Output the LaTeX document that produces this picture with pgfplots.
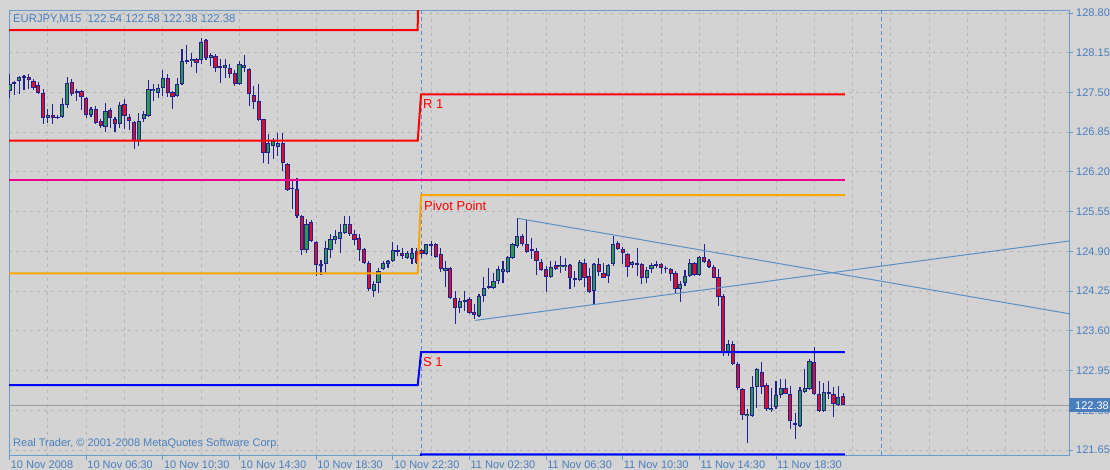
\documentclass[border=0pt]{standalone}
\usepackage{pgfplots}
\usepackage{pgfplotstable}
\pgfplotsset{compat=1.18}
\usepackage{fontspec}
\setmainfont{Liberation Sans}
\definecolor{bg}{HTML}{D4D4D4}
\definecolor{plotbg}{HTML}{D3D3D3}
\definecolor{gridc}{HTML}{B6B6B6}
\definecolor{framec}{HTML}{6B9BCB}
\definecolor{labc}{HTML}{4A7EBB}
\definecolor{wick}{HTML}{22228E}
\definecolor{bull}{HTML}{2A9A4A}
\definecolor{bear}{HTML}{D8102C}
\definecolor{trend}{HTML}{5B8FC5}
\definecolor{pivorange}{HTML}{FFA500}
\pgfplotstableread{
k o h l c
0 127.52 127.80 127.41 127.64
1 127.64 127.69 127.46 127.67
2 127.69 127.77 127.47 127.75
3 127.74 127.79 127.54 127.77
4 127.75 127.80 127.56 127.70
5 127.69 127.72 127.54 127.57
6 127.62 127.67 127.47 127.49
7 127.49 127.56 126.98 127.08
8 127.08 127.23 127.00 127.13
9 127.13 127.31 126.98 127.08
10 127.08 127.13 127.06 127.10
11 127.10 127.41 127.08 127.31
12 127.29 127.75 127.25 127.65
13 127.67 127.72 127.44 127.47
14 127.49 127.56 127.36 127.52
15 127.52 127.54 127.21 127.43
16 127.41 127.43 127.08 127.13
17 127.13 127.26 127.10 127.23
18 127.23 127.28 126.98 127.00
19 127.03 127.07 126.92 126.95
20 126.93 127.33 126.85 127.20
21 127.21 127.25 126.92 127.08
22 127.07 127.10 126.85 126.98
23 126.98 127.34 126.92 127.29
24 127.31 127.39 126.90 127.11
25 127.10 127.15 126.89 127.03
26 127.02 127.03 126.58 126.71
27 126.71 127.16 126.62 127.03
28 127.07 127.20 127.02 127.15
29 127.11 127.70 127.10 127.56
30 127.52 127.64 127.36 127.56
31 127.49 127.64 127.41 127.57
32 127.57 127.87 127.44 127.74
33 127.74 127.80 127.43 127.49
34 127.51 127.52 127.23 127.43
35 127.44 127.74 127.43 127.64
36 127.64 128.21 127.62 128.01
37 128.00 128.28 127.97 128.03
38 128.01 128.15 127.92 128.05
39 128.05 128.06 127.82 127.98
40 128.03 128.39 127.97 128.33
41 128.36 128.37 128.03 128.06
42 128.06 128.15 127.93 128.11
43 128.10 128.13 127.83 127.90
44 127.90 128.05 127.65 127.93
45 127.90 128.05 127.74 127.95
46 127.90 127.97 127.74 127.80
47 127.82 127.87 127.60 127.64
48 127.64 128.01 127.62 127.97
49 127.90 128.11 127.83 127.95
50 127.88 127.90 127.28 127.47
51 127.46 127.60 127.23 127.34
52 127.36 127.64 127.03 127.05
53 127.07 127.07 126.35 126.51
54 126.51 126.82 126.33 126.67
55 126.62 126.75 126.41 126.71
56 126.61 126.84 126.46 126.67
57 126.67 126.84 126.21 126.35
58 126.33 126.35 125.89 125.90
59 125.92 126.08 125.59 125.94
60 125.92 126.10 125.45 125.48
61 125.48 125.50 124.84 124.92
62 124.92 125.43 124.87 125.35
63 125.38 125.41 125.05 125.07
64 125.05 125.07 124.50 124.68
65 124.66 124.76 124.51 124.69
66 124.69 125.07 124.55 124.95
67 124.92 125.18 124.79 125.10
68 125.09 125.25 125.02 125.15
69 125.10 125.35 124.87 125.22
70 125.20 125.48 125.18 125.35
71 125.35 125.48 125.15 125.18
72 125.18 125.25 125.00 125.09
73 125.12 125.18 124.74 124.92
74 124.94 124.95 124.69 124.71
75 124.71 124.74 124.25 124.28
76 124.25 124.41 124.15 124.37
77 124.38 124.63 124.22 124.58
78 124.61 124.74 124.59 124.71
79 124.69 124.76 124.63 124.74
80 124.74 125.05 124.73 124.92
81 124.89 125.00 124.82 124.92
82 124.87 124.95 124.77 124.82
83 124.79 124.91 124.77 124.87
84 124.77 124.95 124.69 124.87
85 124.91 124.95 124.69 124.71
86 124.92 124.94 124.79 124.86
87 124.86 125.02 124.84 125.02
88 124.99 125.07 124.82 125.02
89 125.02 125.04 124.79 124.81
90 124.86 124.95 124.56 124.61
91 124.58 124.74 124.32 124.63
92 124.63 124.64 124.12 124.14
93 124.14 124.25 123.71 123.97
94 123.97 124.14 123.89 124.09
95 124.07 124.25 123.92 124.10
96 124.12 124.15 123.88 123.89
97 123.91 124.04 123.79 123.86
98 123.84 124.20 123.83 124.17
99 124.17 124.48 124.07 124.30
100 124.30 124.63 124.28 124.33
101 124.30 124.55 124.28 124.41
102 124.41 124.66 124.37 124.61
103 124.56 124.74 124.38 124.61
104 124.56 124.82 124.55 124.81
105 124.79 125.04 124.77 125.02
106 124.99 125.45 124.95 125.15
107 125.15 125.18 124.99 125.02
108 125.02 125.41 124.87 124.89
109 124.91 125.12 124.77 124.94
110 124.91 124.95 124.51 124.74
111 124.73 124.77 124.58 124.60
112 124.61 124.66 124.23 124.48
113 124.48 124.74 124.46 124.64
114 124.68 124.74 124.59 124.61
115 124.64 124.82 124.55 124.68
116 124.64 124.79 124.58 124.68
117 124.68 124.69 124.28 124.46
118 124.43 124.58 124.32 124.46
119 124.43 124.76 124.41 124.73
120 124.71 124.77 124.32 124.46
121 124.50 124.63 124.22 124.24
122 124.25 124.71 124.04 124.69
123 124.69 124.79 124.50 124.56
124 124.55 124.71 124.46 124.46
125 124.50 124.69 124.38 124.68
126 124.69 125.15 124.66 125.02
127 125.04 125.07 124.92 124.94
128 124.94 124.97 124.69 124.87
129 124.86 124.87 124.48 124.64
130 124.68 124.74 124.63 124.73
131 124.68 124.95 124.50 124.71
132 124.69 124.71 124.37 124.46
133 124.46 124.64 124.38 124.60
134 124.61 124.71 124.55 124.68
135 124.66 124.74 124.63 124.69
136 124.69 124.71 124.53 124.63
137 124.61 124.66 124.55 124.63
138 124.61 124.63 124.41 124.53
139 124.55 124.58 124.22 124.28
140 124.28 124.41 124.07 124.37
141 124.38 124.60 124.33 124.50
142 124.50 124.77 124.48 124.71
143 124.71 124.73 124.50 124.51
144 124.51 124.82 124.50 124.81
145 124.81 125.02 124.71 124.73
146 124.74 124.77 124.63 124.64
147 124.64 124.68 124.46 124.46
148 124.48 124.61 124.01 124.15
149 124.17 124.20 123.19 123.24
150 123.24 123.45 123.19 123.38
151 123.38 123.43 123.04 123.06
152 123.06 123.09 122.63 122.66
153 122.65 122.66 122.14 122.22
154 122.20 122.32 121.76 122.24
155 122.21 122.86 122.19 122.68
156 122.68 122.99 122.34 122.98
157 122.93 123.09 122.57 122.68
158 122.71 122.75 122.29 122.32
159 122.30 122.66 122.27 122.34
160 122.35 122.78 122.32 122.55
161 122.55 122.81 122.50 122.66
162 122.66 122.81 122.57 122.57
163 122.57 122.70 121.99 122.12
164 122.06 122.26 121.83 122.09
165 122.04 122.68 122.03 122.63
166 122.60 122.98 122.58 122.66
167 122.65 123.14 122.63 123.11
168 123.09 123.34 122.55 122.57
169 122.57 122.78 122.27 122.29
170 122.29 122.75 122.27 122.60
171 122.57 122.78 122.48 122.60
172 122.57 122.68 122.19 122.40
173 122.39 122.70 122.37 122.52
174 122.54 122.58 122.38 122.38
}\candles
\begin{document}
\begin{tikzpicture}
\fill[bg] (-9pt,-14pt) rectangle (1101pt,456pt);
\begin{axis}[
  scale only axis, width=1060pt, height=445pt,
  xmin=-0.125, xmax=221.17, ymin=121.552, ymax=128.833,
  axis background/.style={fill=plotbg},
  axis line style={draw=framec, line width=1pt},
  tick align=outside, major tick length=4pt, minor tick length=0pt,
  tick style={draw=framec, line width=1pt},
  xtick pos=left, ytick pos=right, yticklabel pos=right,
  xtick={0,16,...,160},
  xticklabels={10 Nov 2008,10 Nov 06:30,10 Nov 10:30,10 Nov 14:30,10 Nov 18:30,10 Nov 22:30,11 Nov 02:30,11 Nov 06:30,11 Nov 10:30,11 Nov 14:30,11 Nov 18:30},
  minor xtick={8,24,40,56,72,88,104,120,136,152,168,176,184,192,200,208,216},
  ytick={121.65,122.30,122.95,123.60,124.25,124.90,125.55,126.20,126.85,127.50,128.15,128.80},
  yticklabels={121.65,122.30,122.95,123.60,124.25,124.90,125.55,126.20,126.85,127.50,128.15,128.80},
  xmajorgrids, xminorgrids, ymajorgrids,
  major grid style={gridc, dash pattern=on 3pt off 4pt, line width=1pt},
  minor grid style={gridc, dash pattern=on 3pt off 4pt, line width=1pt},
  xticklabel style={anchor=north west, inner xsep=1pt, inner ysep=1pt, font=\fontsize{11}{13}\selectfont, text=labc},
  yticklabel style={anchor=west, inner xsep=3pt, font=\fontsize{11}{13}\selectfont, text=labc},
  /pgf/number format/assume math mode=true,
]
% bid line
\addplot[forget plot, color=gray!75, line width=1pt] coordinates {(-1,122.38) (222,122.38)};
% period separators
\addplot[forget plot, color=trend, line width=1.2pt, dash pattern=on 4pt off 3pt] coordinates {(86,121) (86,129.5)};
\addplot[forget plot, color=trend, line width=1.2pt, dash pattern=on 4pt off 3pt] coordinates {(182,121) (182,129.5)};
% wicks
\addplot[forget plot, draw=wick, line width=1.1pt, quiver={u=0, v={\thisrow{l}-\thisrow{h}}}] table[x=k, y=h] {\candles};
% bodies outline
\addplot[forget plot, draw=wick, line width=4.2pt, quiver={u=0, v={-abs(\thisrow{o}-\thisrow{c})}}] table[x=k, y expr={max(\thisrow{o},\thisrow{c})}] {\candles};
% bull fill
\addplot[forget plot, draw=bull, line width=2.2pt, restrict expr to domain={\thisrow{c}-\thisrow{o}}{0:100}, quiver={u=0, v={-max(abs(\thisrow{o}-\thisrow{c})-0.033,0)}}] table[x=k, y expr={max(\thisrow{o},\thisrow{c})-0.0164}] {\candles};
% bear fill
\addplot[forget plot, draw=bear, line width=2.2pt, restrict expr to domain={\thisrow{c}-\thisrow{o}}{-100:0}, quiver={u=0, v={-max(abs(\thisrow{o}-\thisrow{c})-0.033,0)}}] table[x=k, y expr={max(\thisrow{o},\thisrow{c})-0.0164}] {\candles};
% pivot levels
\addplot[forget plot, color=red, line width=2pt] coordinates {(-1,128.52) (85.2,128.52) (85.25,129.3)};
\addplot[forget plot, color=red, line width=2pt] coordinates {(-1,126.71) (85.2,126.71) (85.9,127.47) (174.4,127.47)};
\addplot[forget plot, color=magenta, line width=2pt] coordinates {(-1,126.07) (174.4,126.07)};
\addplot[forget plot, color=pivorange, line width=2pt] coordinates {(-1,124.54) (85.2,124.54) (85.9,125.82) (174.4,125.82)};
\addplot[forget plot, color=blue, line width=2pt] coordinates {(-1,122.71) (85.2,122.71) (85.9,123.25) (174.4,123.25)};
\addplot[forget plot, color=blue, line width=2pt] coordinates {(85.2,121.0) (85.9,121.58) (174.4,121.58)};
% trend lines
\addplot[forget plot, color=trend, line width=1pt] coordinates {(106.08,125.44) (221.17,123.88)};
\addplot[forget plot, color=trend, line width=1pt] coordinates {(97.16,123.77) (221.17,125.07)};
% labels
\node[anchor=west, text=red, font=\fontsize{13}{15}\selectfont, inner sep=0pt] at (axis cs:86.3,127.31) {R 1};
\node[anchor=west, text=red, font=\fontsize{13}{15}\selectfont, inner sep=0pt] at (axis cs:86.5,125.64) {Pivot Point};
\node[anchor=west, text=red, font=\fontsize{13}{15}\selectfont, inner sep=0pt] at (axis cs:86.3,123.09) {S 1};
\end{axis}
\node[anchor=west, text=labc, font=\fontsize{11.3}{13}\selectfont, inner sep=0pt] at (4pt,437pt) {EURJPY,M15~~122.54 122.58 122.38 122.38};
\node[anchor=west, text=labc, font=\fontsize{11}{13}\selectfont, inner sep=0pt] at (4pt,12pt) {Real Trader, © 2001-2008 MetaQuotes Software Corp.};
\node[anchor=west, fill=labc, text=white, font=\fontsize{11}{13}\selectfont, inner xsep=6pt, inner ysep=0pt, minimum height=14pt] at (1060pt,50.6pt) {122.38};
\pgfresetboundingbox
\path[use as bounding box] (-9pt,-14pt) rectangle (1101pt,456pt);
\end{tikzpicture}
\end{document}
